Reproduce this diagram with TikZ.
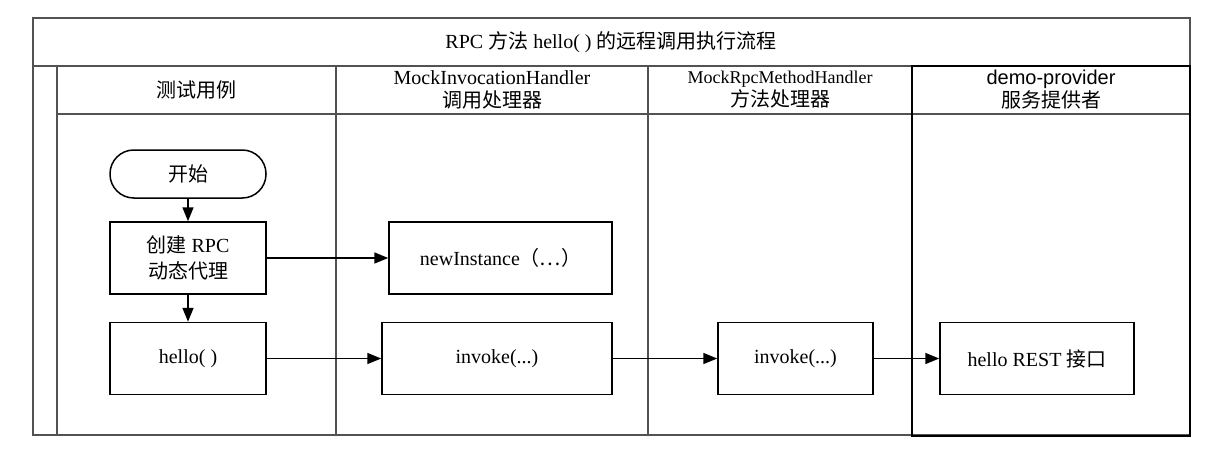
\documentclass[tikz,border=0pt]{standalone}
\usepackage{fontspec}
\setmainfont{Liberation Serif}
\setsansfont{Liberation Sans}
\newfontfamily\cjk{Noto Sans CJK SC}
\usetikzlibrary{arrows.meta}
\tikzset{
	lane/.style={line width=1pt, color=black!68},
	stepbox/.style={draw, line width=0.75pt, minimum height=36pt, align=center, font=\fontsize{10}{13}\selectfont},
	startbox/.style={stepbox, minimum height=24pt, rounded corners=11.9pt},
	flow/.style={line width=0.8pt, -{Triangle[length=7pt,width=5.5pt]}}
}

\begin{document}
\begin{tikzpicture}[x=0.5pt, y=-0.5pt, font=\fontsize{10}{11.5}\selectfont]
			%%%%% START %%%%%
			\useasboundingbox (0, 0) rectangle (1213, 449);
			
			\draw[lane] (33, 18) rectangle (1190, 435);
			\draw[lane] (33, 66) -- (1190, 66);
			\draw[lane] (57, 66) -- (57, 435);
			\draw[lane] (57, 114) -- (1190, 114);
			\draw[lane] (336, 66) -- (336, 435);
			\draw[lane] (648, 66) -- (648, 435);
			\draw[line width=1pt] (912, 66) rectangle (1190, 436);
			
			\node (title) at (611, 42) {RPC {\cjk 方法} hello( ) {\cjk 的远程调用执行流程}};
			\node (laneTest) at (196, 90) {\cjk 测试用例};
			\node[align=center] (laneProxy) at (492, 90) {MockInvocationHandler\\{\cjk 调用处理器}};
			\node[align=center] (laneMethod) at (780, 90) {{\fontsize{9}{11.5}\selectfont MockRpcMethodHandler}\\{\cjk 方法处理器}};
			\node[align=center, font=\sffamily\fontsize{10}{11.5}\selectfont] (laneProvider) at (1051, 90) {demo-provider\\{\cjk 服务提供者}};
			
			\node[startbox, minimum width=78pt] (start) at (188, 174) {\cjk 开始};
			\node[stepbox, minimum width=78pt] (create) at (188, 258) {{\cjk 创建} RPC\\{\cjk 动态代理}};
			\node[stepbox, minimum width=78pt] (hello) at (188, 358.5) {hello( )};
			\node[stepbox, minimum width=111.5pt] (newInst) at (500.5, 258) {newInstance{\cjk （…）}};
			\node[stepbox, minimum width=115pt] (invokeProxy) at (497, 358.5) {invoke(...)};
			\node[stepbox, minimum width=77.5pt] (invokeMethod) at (795.5, 358.5) {invoke(...)};
			\node[stepbox, minimum width=97pt] (rest) at (1037, 358.5) {hello REST {\cjk 接口}};
			
			\draw[flow] (start) -- (create);
			\draw[flow] (create) -- (hello);
			\draw[flow] (create) -- (newInst);
			\draw[flow] (hello) -- (invokeProxy);
			\draw[flow] (invokeProxy) -- (invokeMethod);
			\draw[flow] (invokeMethod) -- (rest);
			
			%%%%% END %%%%%
		\end{tikzpicture}
\end{document}
